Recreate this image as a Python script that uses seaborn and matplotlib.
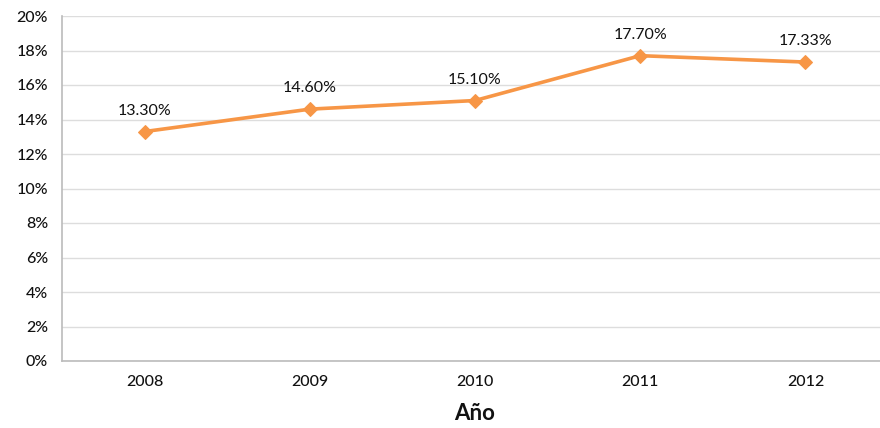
import matplotlib
matplotlib.use("Agg")
import matplotlib.pyplot as plt
import seaborn as sns
import pandas as pd

years = ["2008", "2009", "2010", "2011", "2012"]
values = [13.30, 14.60, 15.10, 17.70, 17.33]
labels = ["13.30%", "14.60%", "15.10%", "17.70%", "17.33%"]
yticks = [0, 2, 4, 6, 8, 10, 12, 14, 16, 18, 20]

sns.set_theme(style="white")
plt.rcParams['font.family'] = ['Lato', 'DejaVu Sans']

df = pd.DataFrame({"Año": years, "val": values})

fig = plt.figure(figsize=(8.8, 4.28), dpi=100)
ax = fig.add_axes([62/880, 1-361/428, (888-62)/880, (361-16)/428])

color = "#F79646"
sns.lineplot(data=df, x="Año", y="val", ax=ax, color=color, linewidth=2.6,
             marker="D", markersize=7, markeredgecolor=color, sort=False)

for i, (v, lab) in enumerate(zip(values, labels)):
    ax.annotate(lab, (i, v), xytext=(0, 10), textcoords="offset points",
                ha="center", va="bottom", fontsize=11.5, color="#111111")

ax.set_xlim(-0.5, 4.5)
ax.set_ylim(0, 20)
ax.set_yticks(yticks)
ax.set_yticklabels([f"{t}%" for t in yticks])
ax.grid(axis="y", color="#dddddd", linewidth=1)
ax.set_axisbelow(True)
for s in ["top", "right"]:
    ax.spines[s].set_visible(False)
for s in ["left", "bottom"]:
    ax.spines[s].set_color("#bbbbbb")
    ax.spines[s].set_linewidth(1.2)
ax.tick_params(axis="both", labelsize=11.5, colors="#111111", length=0, pad=10)
for t in ax.get_xticklabels() + ax.get_yticklabels():
    t.set_fontweight("medium")
ax.set_ylabel("")
ax.set_xlabel("Año", fontsize=16, fontweight="bold", color="#111111", labelpad=10)

fig.savefig("out.png", dpi=100)
